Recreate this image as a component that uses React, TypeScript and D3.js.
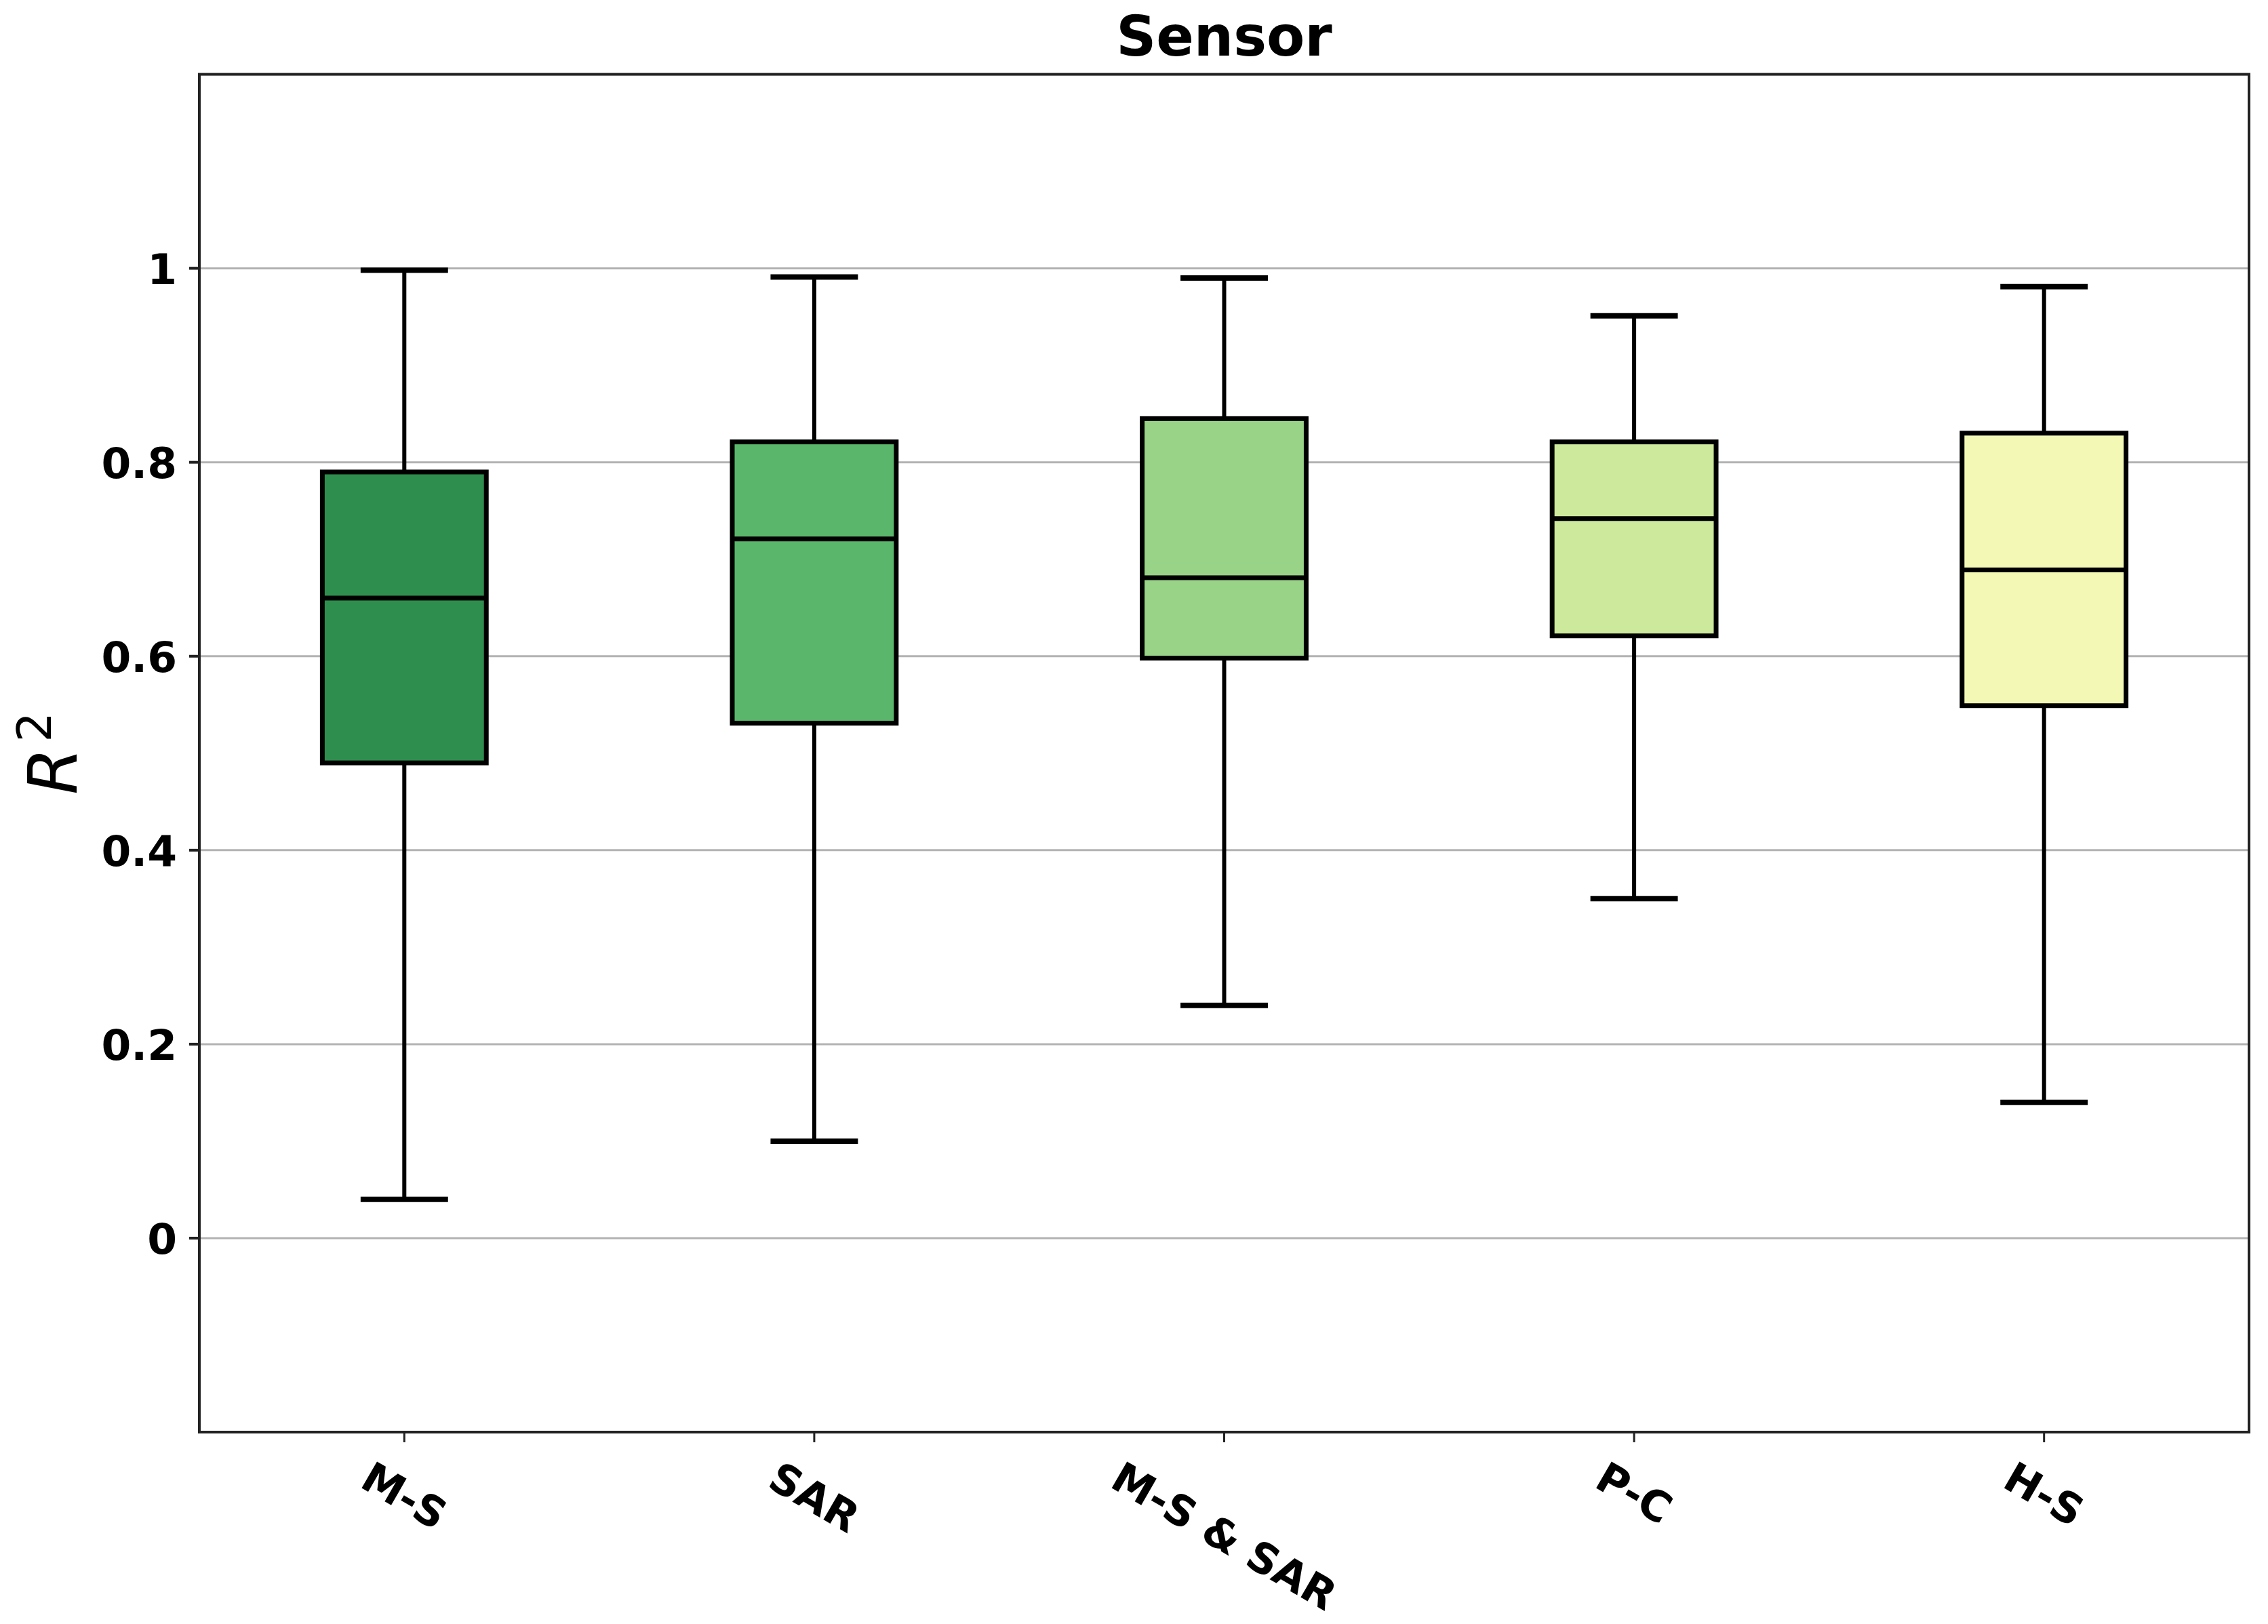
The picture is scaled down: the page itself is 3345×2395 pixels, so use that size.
import React, { useEffect, useRef } from 'react';
import * as d3 from 'd3';

const categories = ['M-S', 'SAR', 'M-S & SAR', 'P-C', 'H-S'];
const whiskerLow = [0.04, 0.1, 0.24, 0.35, 0.14];
const q1 = [0.49, 0.531, 0.598, 0.621, 0.549];
const median = [0.66, 0.721, 0.681, 0.742, 0.689];
const q3 = [0.79, 0.821, 0.845, 0.821, 0.83];
const whiskerHigh = [0.998, 0.991, 0.99, 0.951, 0.981];
const boxColors = ['#2e8e4e', '#5ab66a', '#98d387', '#cde99c', '#f3f9b5'];
const yTicks = [0, 0.2, 0.4, 0.6, 0.8, 1];
const yTickLabels = ['0', '0.2', '0.4', '0.6', '0.8', '1'];
const titleText = 'Sensor';

const W = 3345;
const H = 2395;
const FONT = "'DejaVu Sans', sans-serif";

export default function App() {
  const ref = useRef<SVGSVGElement | null>(null);

  useEffect(() => {
    document.body.style.margin = '0';
    document.body.style.overflow = 'hidden';
    const svg = d3.select(ref.current);
    svg.selectAll('*').remove();

    const left = 294, right = 3317, top = 109.6, bottom = 2112;
    const x = d3.scaleLinear().domain([-0.5, categories.length - 0.5]).range([left, right]);
    const y = d3.scaleLinear().domain([-0.2, 1.2]).range([bottom, top]);
    const boxW = x(0.4) - x(0);

    svg.append('rect').attr('x', 0).attr('y', 0).attr('width', W).attr('height', H).attr('fill', '#fff');

    // grid
    svg.append('g').selectAll('line').data(yTicks).join('line')
      .attr('x1', left).attr('x2', right)
      .attr('y1', (d) => y(d)).attr('y2', (d) => y(d))
      .attr('stroke', '#b3b3b3').attr('stroke-width', 3);

    // boxes
    const g = svg.append('g');
    categories.forEach((c, i) => {
      const cx = x(i);
      g.append('line').attr('x1', cx).attr('x2', cx).attr('y1', y(q3[i])).attr('y2', y(whiskerHigh[i]))
        .attr('stroke', '#000').attr('stroke-width', 6);
      g.append('line').attr('x1', cx).attr('x2', cx).attr('y1', y(q1[i])).attr('y2', y(whiskerLow[i]))
        .attr('stroke', '#000').attr('stroke-width', 6);
      [whiskerHigh[i], whiskerLow[i]].forEach((v) => {
        g.append('line').attr('x1', cx - boxW / 4).attr('x2', cx + boxW / 4)
          .attr('y1', y(v)).attr('y2', y(v))
          .attr('stroke', '#000').attr('stroke-width', 8).attr('stroke-linecap', 'square');
      });
      g.append('rect').attr('x', cx - boxW / 2).attr('width', boxW)
        .attr('y', y(q3[i])).attr('height', y(q1[i]) - y(q3[i]))
        .attr('fill', boxColors[i]).attr('stroke', '#000').attr('stroke-width', 7);
      g.append('line').attr('x1', cx - boxW / 2).attr('x2', cx + boxW / 2)
        .attr('y1', y(median[i])).attr('y2', y(median[i]))
        .attr('stroke', '#000').attr('stroke-width', 7);
    });

    // frame
    svg.append('rect').attr('x', left).attr('y', top).attr('width', right - left).attr('height', bottom - top)
      .attr('fill', 'none').attr('stroke', '#222').attr('stroke-width', 4);

    // y ticks
    const yt = svg.append('g');
    yTicks.forEach((v, i) => {
      yt.append('line').attr('x1', left - 15).attr('x2', left).attr('y1', y(v)).attr('y2', y(v))
        .attr('stroke', '#222').attr('stroke-width', 4);
      yt.append('text').attr('x', left - 33).attr('y', y(v)).attr('dy', '0.364em')
        .attr('text-anchor', 'end').attr('font-family', FONT).attr('font-weight', 'bold')
        .attr('font-size', 63).attr('fill', '#000').text(yTickLabels[i]);
    });

    // x ticks
    const xt = svg.append('g');
    const fs = 62;
    const rad = (30 * Math.PI) / 180;
    categories.forEach((c, i) => {
      const cx = x(i);
      xt.append('line').attr('x1', cx).attr('x2', cx).attr('y1', bottom).attr('y2', bottom + 15)
        .attr('stroke', '#222').attr('stroke-width', 3);
      const t = xt.append('text').attr('font-family', FONT).attr('font-weight', 'bold')
        .attr('font-size', fs).attr('fill', '#000').attr('text-anchor', 'middle')
        .attr('dy', '0.346em').text(c);
      const L = (t.node() as SVGTextElement).getComputedTextLength();
      const h = fs * 1.164;
      const bbH = L * Math.sin(rad) + h * Math.cos(rad);
      const cy = bottom + 30 + bbH / 2;
      t.attr('transform', `translate(${cx},${cy}) rotate(30)`);
    });

    // y label
    const yl = svg.append('text').attr('transform', `translate(113,1111) rotate(-90)`)
      .attr('text-anchor', 'middle').attr('font-family', FONT).attr('fill', '#000');
    yl.append('tspan').attr('font-size', 100).attr('font-style', 'italic').text('R');
    yl.append('tspan').attr('font-size', 70).attr('dx', 8).attr('dy', -38).text('2');

    // title
    svg.append('text').attr('x', (left + right) / 2).attr('y', 82).attr('text-anchor', 'middle')
      .attr('font-family', FONT).attr('font-weight', 'bold').attr('font-size', 82)
      .attr('fill', '#000').text(titleText);
  }, []);

  return (
    <svg ref={ref} width={W} height={H} style={{ position: 'absolute', left: 0, top: 0, display: 'block' }} />
  );
}
